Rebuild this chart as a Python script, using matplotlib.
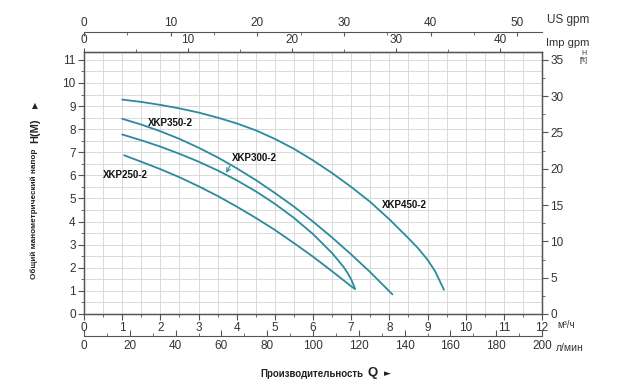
import matplotlib
matplotlib.use("Agg")
import matplotlib.pyplot as plt
from matplotlib.ticker import MultipleLocator

plt.rcParams['font.family'] = ['Liberation Sans', 'DejaVu Sans']

# ---- data (Q in m3/h, H in m) ----
q450 = [1.0, 1.5, 2, 2.5, 3, 3.5, 4, 4.5, 5, 5.5, 6, 6.5, 7, 7.5, 8, 8.5, 8.75, 9.0, 9.2, 9.43]
h450 = [9.28, 9.18, 9.05, 8.9, 8.72, 8.5, 8.25, 7.95, 7.58, 7.15, 6.65, 6.1, 5.5, 4.85,
        4.1, 3.28, 2.85, 2.35, 1.85, 1.05]

q350 = [1.0, 1.5, 2, 2.5, 3, 3.5, 4, 4.5, 5, 5.5, 6, 6.5, 7, 7.5, 8.08]
h350 = [8.45, 8.20, 7.91, 7.58, 7.20, 6.78, 6.31, 5.80, 5.24, 4.65, 4.0, 3.31, 2.58, 1.81, 0.85]

q300 = [1.0, 1.5, 2, 2.5, 3, 3.5, 4, 4.5, 5, 5.5, 6, 6.5, 6.8, 6.9, 7.0, 7.1]
h300 = [7.77, 7.52, 7.245, 6.935, 6.595, 6.215, 5.79, 5.31, 4.77, 4.16, 3.46, 2.635,
        2.04, 1.79, 1.50, 1.10]

q250 = [1.05, 1.5, 2, 2.5, 3, 3.5, 4, 4.5, 5, 5.5, 6, 6.5, 7, 7.1]
h250 = [6.87, 6.59, 6.27, 5.92, 5.53, 5.11, 4.65, 4.16, 3.64, 3.07, 2.48, 1.85, 1.20, 1.08]

curve_names = ["XKP450-2", "XKP350-2", "XKP300-2", "XKP250-2"]
label_pos = [(7.81, 4.72), (1.68, 8.27), (3.88, 6.75), (0.5, 6.02)]

q_ticks = list(range(0, 13))
h_ticks = list(range(0, 12))
ft_ticks = [0, 5, 10, 15, 20, 25, 30, 35]
lmin_ticks = [0, 20, 40, 60, 80, 100, 120, 140, 160, 180, 200]
imp_ticks = [0, 10, 20, 30, 40]
us_ticks = [0, 10, 20, 30, 40, 50]

W, H = 640, 388
fig = plt.figure(figsize=(6.4, 3.88), dpi=100)
L, R, T, B = 84, 542, 52, 314
ax = fig.add_axes([L / W, 1 - B / H, (R - L) / W, (B - T) / H])

YTOP = 11.34
ax.set_xlim(0, 12)
ax.set_ylim(0, YTOP)

frame = '#555555'
tc = '#333333'
curve_c = '#2b8a9c'
fs = 8.5

for s in ax.spines.values():
    s.set_color(frame)
    s.set_linewidth(1.0)

ax.xaxis.set_major_locator(MultipleLocator(1))
ax.xaxis.set_minor_locator(MultipleLocator(0.5))
ax.yaxis.set_major_locator(MultipleLocator(1))
ax.yaxis.set_minor_locator(MultipleLocator(0.5))
ax.set_xticks(q_ticks)
ax.set_yticks(h_ticks)
ax.tick_params(axis='both', which='major', direction='out', length=4, width=0.8,
               color=frame, labelcolor=tc, labelsize=fs, pad=2)
ax.tick_params(axis='both', which='minor', direction='out', length=2, width=0.6, color=frame)
ax.tick_params(axis='x', which='both', top=False)
ax.tick_params(axis='y', which='both', right=False)
ax.grid(True, which='both', color='#d4d4d4', linewidth=0.6)
ax.set_axisbelow(True)

for q, h in [(q450, h450), (q350, h350), (q300, h300), (q250, h250)]:
    ax.plot(q, h, color=curve_c, linewidth=1.3, solid_capstyle='round',
            solid_joinstyle='round', zorder=3)

for name, (x, y) in zip(curve_names, label_pos):
    ax.text(x, y, name, fontsize=7, fontweight='bold', color='#111111',
            ha='left', va='center', zorder=4)

ax.annotate('', xy=(3.69, 6.0), xytext=(3.86, 6.52),
            arrowprops=dict(arrowstyle='->', color=curve_c, lw=0.8, mutation_scale=7),
            zorder=4)

# right axis in ft (aligned as in reference)
axr = ax.twinx()
axr.set_ylim(0, YTOP * 35 / 11)
axr.set_yticks(ft_ticks)
axr.yaxis.set_minor_locator(MultipleLocator(2.5))
axr.tick_params(axis='y', which='major', direction='out', length=4, width=0.8,
                color=frame, labelcolor=tc, labelsize=fs, pad=2)
axr.tick_params(axis='y', which='minor', direction='out', length=2, width=0.6, color=frame)
for s in axr.spines.values():
    s.set_color(frame)

# top: Imp gpm (on the frame), US gpm (above)
imp = ax.secondary_xaxis('top', functions=(lambda x: x * 3.666, lambda x: x / 3.666))
imp.set_xticks(imp_ticks)
imp.xaxis.set_minor_locator(MultipleLocator(5))
imp.tick_params(which='major', direction='out', length=3, width=0.8, color=frame,
                labelcolor=tc, labelsize=fs, pad=1)
imp.tick_params(which='minor', direction='out', length=2, width=0.6, color=frame)
imp.spines['top'].set_color(frame)

us_loc = 1 + (T - 32) / (B - T)
us = ax.secondary_xaxis(us_loc, functions=(lambda x: x * 4.403, lambda x: x / 4.403))
us.set_xticks(us_ticks)
us.xaxis.set_minor_locator(MultipleLocator(5))
us.tick_params(which='major', direction='in', length=3, width=0.8, color=frame,
               labelcolor=tc, labelsize=fs, pad=2)
us.tick_params(which='minor', direction='in', length=2, width=0.6, color=frame)
us.spines['top'].set_color(frame)

# bottom: l/min
lm_loc = -(336 - B) / (B - T)
lm = ax.secondary_xaxis(lm_loc, functions=(lambda x: x * 1000 / 60, lambda x: x * 60 / 1000))
lm.set_xticks(lmin_ticks)
lm.xaxis.set_minor_locator(MultipleLocator(10))
lm.tick_params(which='major', direction='in', length=4, width=0.8, color=frame,
               labelcolor=tc, labelsize=fs, pad=3)
lm.tick_params(which='minor', direction='in', length=2, width=0.6, color=frame)
lm.spines['bottom'].set_color(frame)


def ft(x, y, s, **kw):
    fig.text(x / W, 1 - y / H, s, **kw)


ft(547, 20, 'US gpm', fontsize=8.5, color=tc, ha='left', va='center')
ft(546, 43, 'Imp gpm', fontsize=8, color=tc, ha='left', va='center')
ft(584, 57, 'H\n[ft]', fontsize=5, color=tc, ha='center', va='center', linespacing=0.9)
ft(557, 325, 'м³/ч', fontsize=7, color=tc, ha='left', va='center')
ft(556, 348, 'л/мин', fontsize=7.5, color=tc, ha='left', va='center')

# bottom title
ft(260, 374, 'Производительность', fontsize=7, fontweight='bold', color='#222222',
   ha='left', va='center')
ft(368, 373, 'Q', fontsize=9.5, fontweight='bold', color='#222222', ha='left', va='center')
ft(384, 374, '►', fontsize=6.5, color='#222222', ha='left', va='center',
   family=['DejaVu Sans'])

# left title
ft(34, 279, 'Общий манометрический напор', fontsize=5.9, fontweight='bold',
   color='#222222', rotation=90, ha='center', va='bottom')
ft(35, 143, 'H(M)', fontsize=8, fontweight='bold', color='#222222', rotation=90,
   ha='center', va='bottom')
ft(35, 110, '▲', fontsize=5.5, color='#222222', rotation=0, ha='center', va='bottom',
   family=['DejaVu Sans'])

fig.savefig('out.png', dpi=100)
